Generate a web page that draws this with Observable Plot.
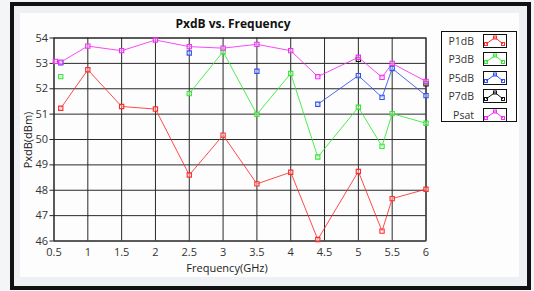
<!DOCTYPE html>
<html>
<head>
<meta charset="utf-8">
<script src="https://cdn.jsdelivr.net/npm/d3@7"></script>
<script src="https://cdn.jsdelivr.net/npm/@observablehq/plot@0.6"></script>
<style>
  html, body { margin: 0; padding: 0; background: #f4f5f7; }
  #wrap { position: relative; width: 534px; height: 291px; overflow: hidden; font-family: "Open Sans", "Noto Sans", sans-serif; }
  #frame { position: absolute; left: 10px; top: 2px; width: 513px; height: 280px; border: 4px solid #111; background: #eef0f3; }
  #inner { position: absolute; left: 20px; top: 13px; width: 499px; height: 264px; background: #fdfdfd; }
  #title { position: absolute; left: 0; width: 466px; top: 15px; text-align: center; font-weight: bold; font-size: 12px; color: #111; }
  #xlab { position: absolute; left: 0; width: 454px; top: 260px; text-align: center; font-size: 11px; color: #222; }
  #ylab { position: absolute; left: 27px; top: 140px; transform: translate(-50%, -50%) rotate(-90deg); font-size: 11px; color: #222; white-space: nowrap; }
  #chart { position: absolute; left: 0; top: 0; }
  #legend { position: absolute; left: 441px; top: 31px; width: 74px; height: 89px; border: 1.5px solid #111; background: #fff; }
  .lrow { position: absolute; left: 0; width: 74px; height: 14px; }
  .lname { position: absolute; right: 42px; top: 0; font-size: 10.5px; color: #333; line-height: 14px; }
  .licon { position: absolute; left: 41px; top: 0px; }
</style>
</head>
<body>
<div id="wrap">
  <div id="frame"></div>
  <div id="inner"></div>
  <div id="title">PxdB vs. Frequency</div>
  <div id="xlab">Frequency(GHz)</div>
  <div id="ylab">PxdB(dBm)</div>
  <div id="chart"></div>
  <div id="legend"></div>
</div>
<script>
// Frequencies (GHz)
const freq = [0.52, 0.6, 1, 1.5, 2, 2.5, 3, 3.5, 4, 4.4, 5, 5.35, 5.5, 6];
// Series values (dBm); null = no measurement
const P1dB = [null, 51.23, 52.75, 51.30, 51.20, 48.60, 50.17, 48.25, 48.71, 46.06, 48.74, 46.39, 47.67, 48.04];
const P3dB = [null, 52.48, null, null, null, 51.81, 53.46, 50.99, 52.60, 49.31, 51.27, 49.73, 51.02, 50.64];
const P5dB = [null, 53.02, null, null, null, 53.41, null, 52.69, null, 51.39, 52.52, 51.66, 52.80, 51.73];
const P7dB = [null, null, null, null, null, null, null, null, null, null, 53.16, null, null, 52.19];
const Psat = [53.08, 53.05, 53.68, 53.50, 53.92, 53.66, 53.60, 53.75, 53.50, 52.48, 53.24, 52.45, 53.00, 52.29];

const seriesNames = ["P1dB", "P3dB", "P5dB", "P7dB", "Psat"];
const seriesValues = [P1dB, P3dB, P5dB, P7dB, Psat];
const colors = ["#ff2a2a", "#33e833", "#2f50f5", "#111111", "#f52af5"];
const xTicks = [0.5, 1, 1.5, 2, 2.5, 3, 3.5, 4, 4.5, 5, 5.5, 6];
const yTicks = [46, 47, 48, 49, 50, 51, 52, 53, 54];

const data = [];
seriesNames.forEach((s, i) => {
  freq.forEach((f, j) => data.push({series: s, freq: f, value: seriesValues[i][j]}));
});
const pts = data.filter(d => d.value != null);

const chart = Plot.plot({
  width: 534,
  height: 291,
  marginLeft: 53.5,
  marginRight: 108.5,
  marginTop: 37.5,
  marginBottom: 50.5,
  style: {background: "transparent", fontFamily: "'Open Sans', 'Noto Sans', sans-serif", fontSize: "11px", color: "#222"},
  x: {domain: [0.5, 6], label: null},
  y: {domain: [46, 54], label: null},
  color: {domain: seriesNames, range: colors},
  marks: [
    Plot.gridX(xTicks, {stroke: "#2a2a2a", strokeOpacity: 1, strokeWidth: 1}),
    Plot.gridY(yTicks, {stroke: "#2a2a2a", strokeOpacity: 1, strokeWidth: 1}),
    Plot.frame({stroke: "#222"}),
    Plot.axisX(xTicks, {tickSize: 0, tickPadding: 7, fontSize: 11, fill: "#333", label: null, tickFormat: d => String(d)}),
    Plot.axisY(yTicks, {tickSize: 4, tickPadding: 2, fontSize: 11, fill: "#333", label: null, stroke: "#222", tickFormat: d => String(d)}),
    Plot.line(data, {x: "freq", y: "value", z: "series", stroke: "series", strokeWidth: 1, strokeOpacity: 0.85}),
    Plot.dot(pts, {x: "freq", y: "value", stroke: "series", symbol: "square", r: 2.4, strokeWidth: 1.1, fill: "white", fillOpacity: 0.4})
  ]
});
document.getElementById("chart").appendChild(chart);

// Legend
const legend = document.getElementById("legend");
seriesNames.forEach((s, i) => {
  const row = document.createElement("div");
  row.className = "lrow";
  row.style.top = (1.5 + i * 18.5) + "px";
  const c = colors[i];
  row.innerHTML = `<span class="lname">${s}</span>
  <svg class="licon" width="24" height="14" viewBox="0 0 24 14">
    <rect x="0.5" y="0.5" width="23" height="13" fill="#fff" stroke="#111"/>
    <polyline points="3,10 12,3.5 20,10" fill="none" stroke="${c}" stroke-width="1"/>
    <rect x="1.5" y="8.5" width="3" height="3" fill="none" stroke="${c}"/>
    <rect x="10.5" y="2" width="3" height="3" fill="none" stroke="${c}"/>
    <rect x="18.5" y="8.5" width="3" height="3" fill="none" stroke="${c}"/>
  </svg>`;
  legend.appendChild(row);
});
</script>
</body>
</html>
